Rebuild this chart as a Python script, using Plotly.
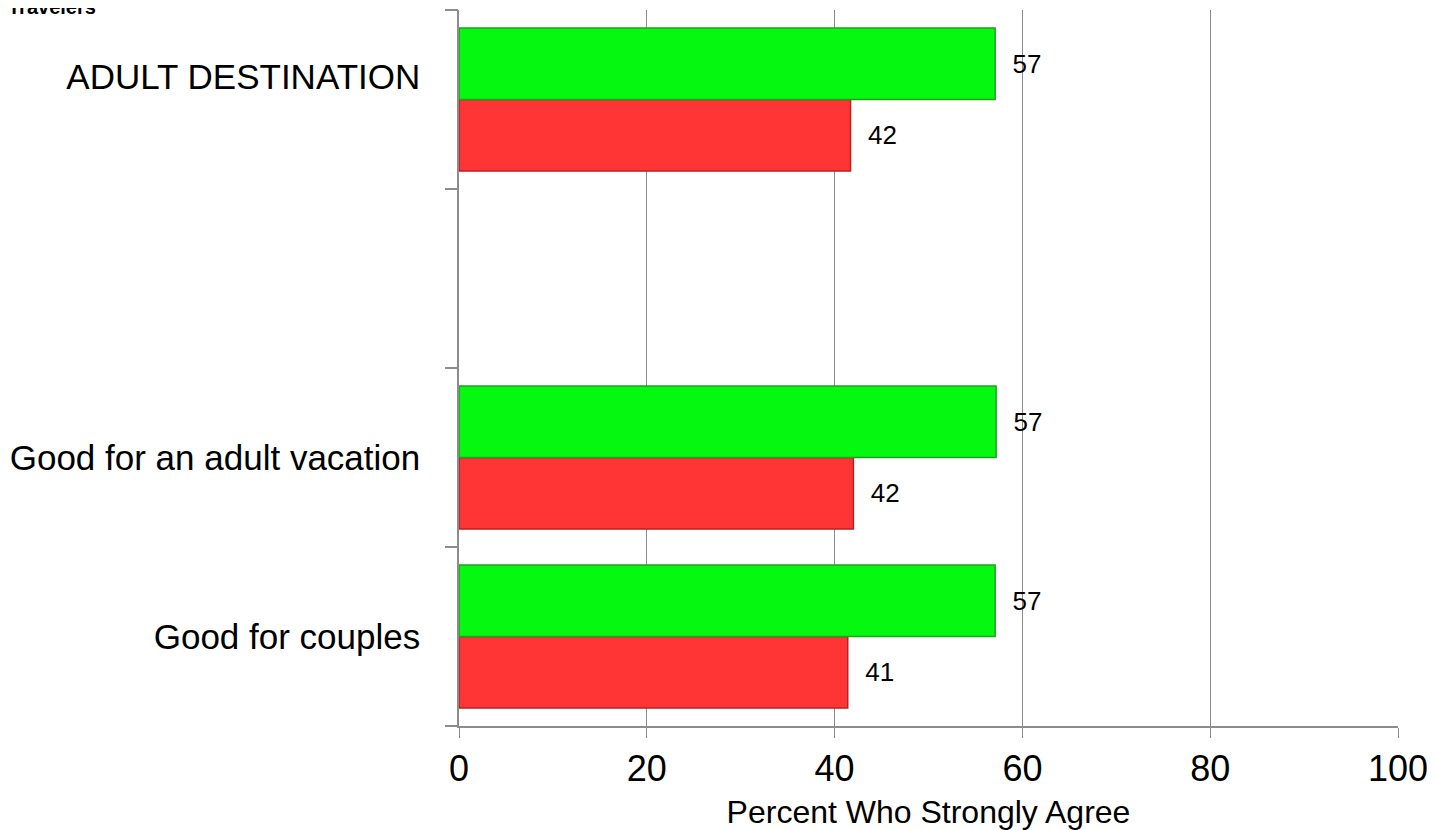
import plotly.graph_objects as go

# category slots, bottom to top; the third slot is left empty in the original
slots = [0, 1, 2, 3]
slot_labels = ["Good for couples", "Good for an adult vacation", "", "ADULT DESTINATION<br> "]
bar_slots = [0, 1, 3]
green_vals = [57.1, 57.2, 57.1]
red_vals = [41.4, 42.0, 41.7]
green_text = ["57", "57", "57"]
red_text = ["41", "42", "42"]
x_ticks = [0, 20, 40, 60, 80, 100]
boundaries = [-0.5, 0.5, 1.5, 2.5, 3.5]

font = "Liberation Sans, Arial, sans-serif"
grid = "#8c8c8c"
nb = "\u00a0\u00a0"

fig = go.Figure()
fig.add_trace(go.Bar(
    y=bar_slots, x=red_vals, orientation="h", name="red",
    marker=dict(color="#ff3535", line=dict(color="#b42222", width=1.5)),
    text=[nb + t for t in red_text], textposition="outside",
    textfont=dict(size=26, color="black", family=font), cliponaxis=False,
))
fig.add_trace(go.Bar(
    y=bar_slots, x=green_vals, orientation="h", name="green",
    marker=dict(color="#05f80f", line=dict(color="#22a022", width=1.5)),
    text=[nb + t for t in green_text], textposition="outside",
    textfont=dict(size=26, color="black", family=font), cliponaxis=False,
))
fig.add_trace(go.Scatter(x=[None], y=[None], yaxis="y2", showlegend=False))

# page body has an 8px margin, so the figure is sized/placed to compensate
fig.update_layout(
    width=1427, height=822,
    margin=dict(l=451, r=37, t=2, b=104),
    paper_bgcolor="white", plot_bgcolor="white",
    barmode="group", bargap=0.2, bargroupgap=0,
    showlegend=False,
    font=dict(family=font, color="black"),
    xaxis=dict(
        range=[0, 100], tickvals=x_ticks, ticks="outside", ticklen=10,
        tickcolor=grid, tickfont=dict(size=36), showgrid=True,
        gridcolor=grid, gridwidth=1, showline=True, linecolor=grid,
        linewidth=1.5, zeroline=False,
        title=dict(text="Percent Who Strongly Agree", font=dict(size=32), standoff=14),
    ),
    yaxis=dict(
        range=[-0.5, 3.5], tickvals=slots, ticktext=slot_labels,
        ticks="", tickfont=dict(size=35), showgrid=False, zeroline=False,
        showline=True, linecolor=grid, linewidth=1.5, ticklabelstandoff=30,
    ),
    yaxis2=dict(
        range=[-0.5, 3.5], overlaying="y", side="left", tickvals=boundaries,
        ticks="outside", ticklen=13, tickcolor=grid, tickwidth=1.5,
        showticklabels=False, showgrid=False, zeroline=False,
    ),
    annotations=[dict(
        text="<b>Travelers</b>", xref="paper", yref="paper",
        x=(90 - 451) / 939, y=1 - 10 / 716, xanchor="right", yanchor="bottom",
        showarrow=False, font=dict(size=20, color="black"),
    )],
)

fig.write_html("out.html")
